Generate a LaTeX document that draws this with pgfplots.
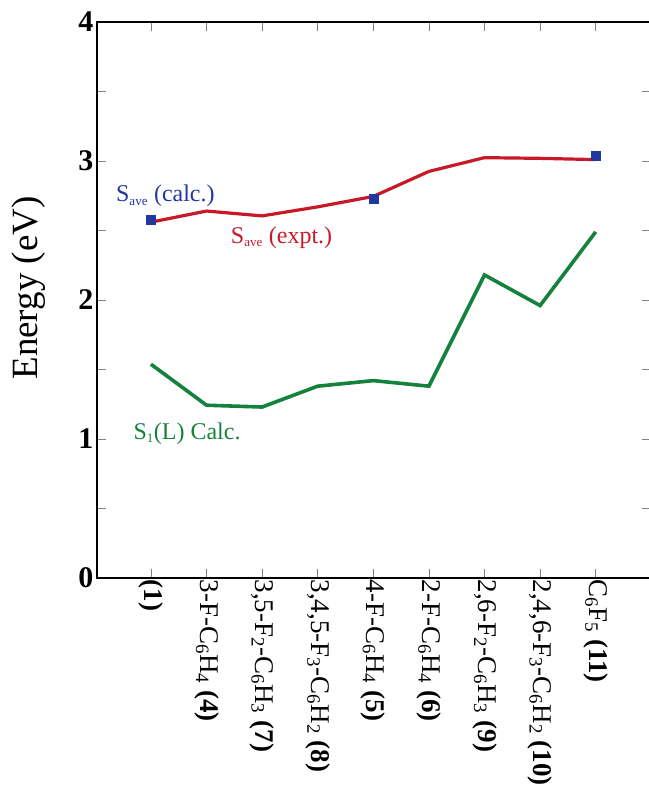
\documentclass[border=0pt]{standalone}
\usepackage{pgfplots}
\pgfplotsset{compat=1.18}
\usepackage{fontspec}
\setmainfont{Liberation Serif}
\definecolor{cred}{RGB}{200,25,40}
\definecolor{cblue}{RGB}{35,55,160}
\definecolor{cgreen}{RGB}{20,130,60}
\pgfplotstableread{
x y
0 2.56
1 2.64
2 2.605
3 2.67
4 2.745
5 2.925
6 3.024
7 3.019
8 3.01
}\expt
\pgfplotstableread{
x y
0 2.58
4 2.73
8 3.035
}\calc
\pgfplotstableread{
x y
0 1.538
1 1.243
2 1.23
3 1.38
4 1.42
5 1.38
6 2.18
7 1.96
8 2.49
}\sone
\begin{document}
\begin{tikzpicture}
\begin{axis}[
  at={(0pt,0pt)}, anchor=south west,
  scale only axis, width=554.3pt, height=556pt,
  xmin=-0.97, xmax=9, ymin=0, ymax=4,
  xtick={0,...,8},
  xticklabels={
    {\textbf{(1)}},
    {3-F-C\textsubscript{6}H\textsubscript{4} \textbf{(4)}},
    {3,5-F\textsubscript{2}-C\textsubscript{6}H\textsubscript{3} \textbf{(7)}},
    {3,4,5-F\textsubscript{3}-C\textsubscript{6}H\textsubscript{2} \textbf{(8)}},
    {4-F-C\textsubscript{6}H\textsubscript{4} \textbf{(5)}},
    {2-F-C\textsubscript{6}H\textsubscript{4} \textbf{(6)}},
    {2,6-F\textsubscript{2}-C\textsubscript{6}H\textsubscript{3} \textbf{(9)}},
    {2,4,6-F\textsubscript{3}-C\textsubscript{6}H\textsubscript{2} \textbf{(10)}},
    {C\textsubscript{6}F\textsubscript{5} \textbf{(11)}}},
  xticklabel style={rotate=-90, anchor=west, inner sep=1.5pt, font=\fontsize{27}{32}\selectfont},
  ytick={0,1,2,3,4},
  minor ytick={0.5,1.5,2.5,3.5},
  tick align=inside,
  major tick length=9pt, minor tick length=9pt,
  every tick/.style={gray, line width=0.8pt},
  axis line style={line width=2.5pt},
  /pgf/number format/assume math mode=true,
  yticklabel style={font=\fontsize{30}{34}\selectfont\bfseries},
  ylabel={Energy (eV)},
  every axis y label/.style={at={(axis description cs:0,0.5)}, xshift=-68pt, yshift=12pt, rotate=90, anchor=center, font=\fontsize{37}{40}\selectfont},
]
\addplot[cred, line width=3.2pt, no markers] table[x=x,y=y] {\expt};
\addplot[only marks, mark=square*, mark size=4.5pt, cblue, mark options={fill=cblue, draw=cblue}] table[x=x,y=y] {\calc};
\addplot[cgreen, line width=3.6pt, no markers] table[x=x,y=y] {\sone};
\node[cblue, font=\fontsize{24}{24}\selectfont] at (axis cs:0.26,2.75) {S\textsubscript{\fontsize{13}{13}\selectfont ave} (calc.)};
\node[cred, font=\fontsize{24}{24}\selectfont] at (axis cs:2.35,2.45) {S\textsubscript{\fontsize{13}{13}\selectfont ave} (expt.)};
\node[cgreen, font=\fontsize{24}{24}\selectfont] at (axis cs:0.65,1.04) {S\textsubscript{\fontsize{13}{13}\selectfont 1}(L) Calc.};
\end{axis}
\pgfresetboundingbox
\path (-97pt,-213pt) rectangle (551pt,578pt);
\end{tikzpicture}
\end{document}
